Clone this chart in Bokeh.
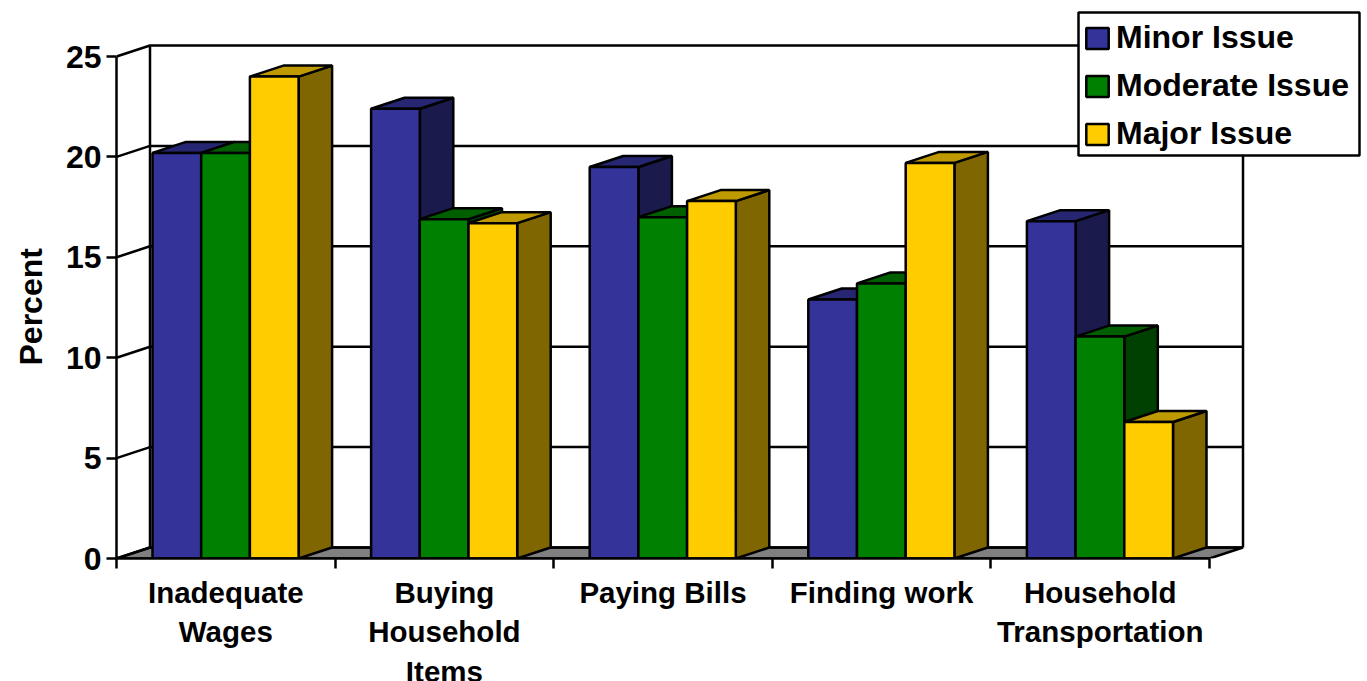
from bokeh.embed import file_html
from bokeh.models import BoxAnnotation, FixedTicker, Legend, LegendItem, Range1d, Title
from bokeh.plotting import figure
from bokeh.resources import INLINE

# Survey results, percent of respondents per issue level
categories = ["Inadequate\nWages", "Buying\nHousehold\nItems", "Paying Bills",
              "Finding work", "Household\nTransportation"]
minor_issue = [20.2, 22.4, 19.5, 12.9, 16.8]
moderate_issue = [20.2, 16.9, 17.0, 13.7, 11.05]
major_issue = [24.0, 16.7, 17.8, 19.7, 6.8]
y_ticks = [0, 5, 10, 15, 20, 25]

# Face colours of each series: front, top, side
styles = [
    ("Minor Issue", minor_issue, "#333399", "#262673", "#1a1a4d"),
    ("Moderate Issue", moderate_issue, "#008000", "#006000", "#004000"),
    ("Major Issue", major_issue, "#ffcc00", "#bf9900", "#806600"),
]

FONT = "Liberation Sans"
LINE = 2.5

# Layout of the drawing area in pixels per data unit
frame_w, frame_h = 1251, 558
px_per_cat, px_per_pct = 218.6, 20.08
depth_x = 33.5 / px_per_cat
depth_y = 11 / px_per_pct
bar_w = 48.7 / px_per_cat
bar_gap = 36 / px_per_cat
n = len(categories)
top = max(y_ticks)

p = figure(
    frame_width=frame_w, frame_height=frame_h,
    x_range=Range1d(0, frame_w / px_per_cat),
    y_range=Range1d(0, frame_h / px_per_pct),
    min_border_left=116, min_border_right=0, min_border_top=0, min_border_bottom=123,
    output_backend="svg", toolbar_location=None,
    background_fill_color="white", border_fill_color="white",
)
p.outline_line_color = None
p.grid.visible = False

# Floor
p.patch([0, depth_x, n + depth_x, n], [0, depth_y, depth_y, 0],
        fill_color="#808080", line_color="black", line_width=LINE)

# Gridlines run across the back wall and down the left wall
wall_x = [[0, depth_x, n + depth_x] for _ in y_ticks]
wall_y = [[v, v + depth_y, v + depth_y] for v in y_ticks]
p.multi_line(wall_x, wall_y, line_color="black", line_width=LINE)
p.multi_line([[depth_x, depth_x], [n + depth_x, n + depth_x]],
             [[depth_y, top + depth_y], [depth_y, top + depth_y]],
             line_color="black", line_width=LINE)

# Bars are drawn left to right so each front face hides its neighbour's side
legend_items = []
for s, (name, values, front, lid, side) in enumerate(styles):
    lefts = [i + bar_gap + s * bar_w for i in range(n)]
    p.patches(
        [[x + bar_w, x + bar_w + depth_x, x + bar_w + depth_x, x + bar_w] for x in lefts],
        [[0, depth_y, v + depth_y, v] for v in values],
        fill_color=side, line_color="black", line_width=LINE,
    )
    p.patches(
        [[x, x + bar_w, x + bar_w + depth_x, x + depth_x] for x in lefts],
        [[v, v, v + depth_y, v + depth_y] for v in values],
        fill_color=lid, line_color="black", line_width=LINE,
    )
    bars = p.vbar(x=[x + bar_w / 2 for x in lefts], top=values, bottom=0, width=bar_w,
                  fill_color=front, line_color="black", line_width=LINE)
    legend_items.append(LegendItem(label=name, renderers=[bars]))

# Axes
yaxis = p.yaxis[0]
yaxis.bounds = (0, top)
yaxis.ticker = FixedTicker(ticks=y_ticks)
yaxis.major_label_text_font = FONT
yaxis.major_label_text_font_size = "32px"
yaxis.major_label_text_font_style = "bold"
yaxis.major_label_text_color = "black"
yaxis.major_label_standoff = 5
yaxis.major_tick_in = 0
yaxis.major_tick_out = 10
yaxis.minor_tick_line_color = None
yaxis.axis_line_width = LINE
yaxis.major_tick_line_width = LINE

xaxis = p.xaxis[0]
xaxis.bounds = (0, n)
xaxis.ticker = FixedTicker(ticks=[i + 0.5 for i in range(n)], minor_ticks=list(range(n + 1)))
xaxis.major_label_overrides = {i + 0.5: c for i, c in enumerate(categories)}
xaxis.major_label_text_font = FONT
xaxis.major_label_text_font_size = "29.5px"
xaxis.major_label_text_font_style = "bold"
xaxis.major_label_text_color = "black"
xaxis.major_label_standoff = 7
xaxis.major_tick_in = 0
xaxis.major_tick_out = 0
xaxis.major_tick_line_color = None
xaxis.minor_tick_in = 0
xaxis.minor_tick_out = 10
xaxis.minor_tick_line_width = LINE
xaxis.axis_line_width = LINE

# Axis title sits beside the 0-25 span rather than the whole frame
p.add_layout(Title(
    text="Percent", align="left", offset=193, standoff=23, vertical_align="top",
    text_color="black", text_font=FONT, text_font_size="32px", text_font_style="bold",
), "left")

# Legend panel: the box is separate so its size is independent of the item padding
p.add_layout(BoxAnnotation(
    left=962 / px_per_cat, right=1243 / px_per_cat,
    bottom=(frame_h - 155) / px_per_pct, top=(frame_h - 12) / px_per_pct,
    fill_color="white", fill_alpha=1,
    line_color="black", line_width=LINE, line_alpha=1,
))
legend = Legend(
    items=legend_items, location=(967, 406),
    border_line_color=None, background_fill_alpha=0,
    padding=7, margin=0, spacing=11,
    glyph_width=28, glyph_height=26, label_width=231, label_standoff=5,
    label_text_font=FONT, label_text_font_size="32px", label_text_font_style="bold",
    label_text_color="black", label_text_baseline="middle",
)
p.add_layout(legend, "center")

open("out.html", "w").write(file_html(p, INLINE))
